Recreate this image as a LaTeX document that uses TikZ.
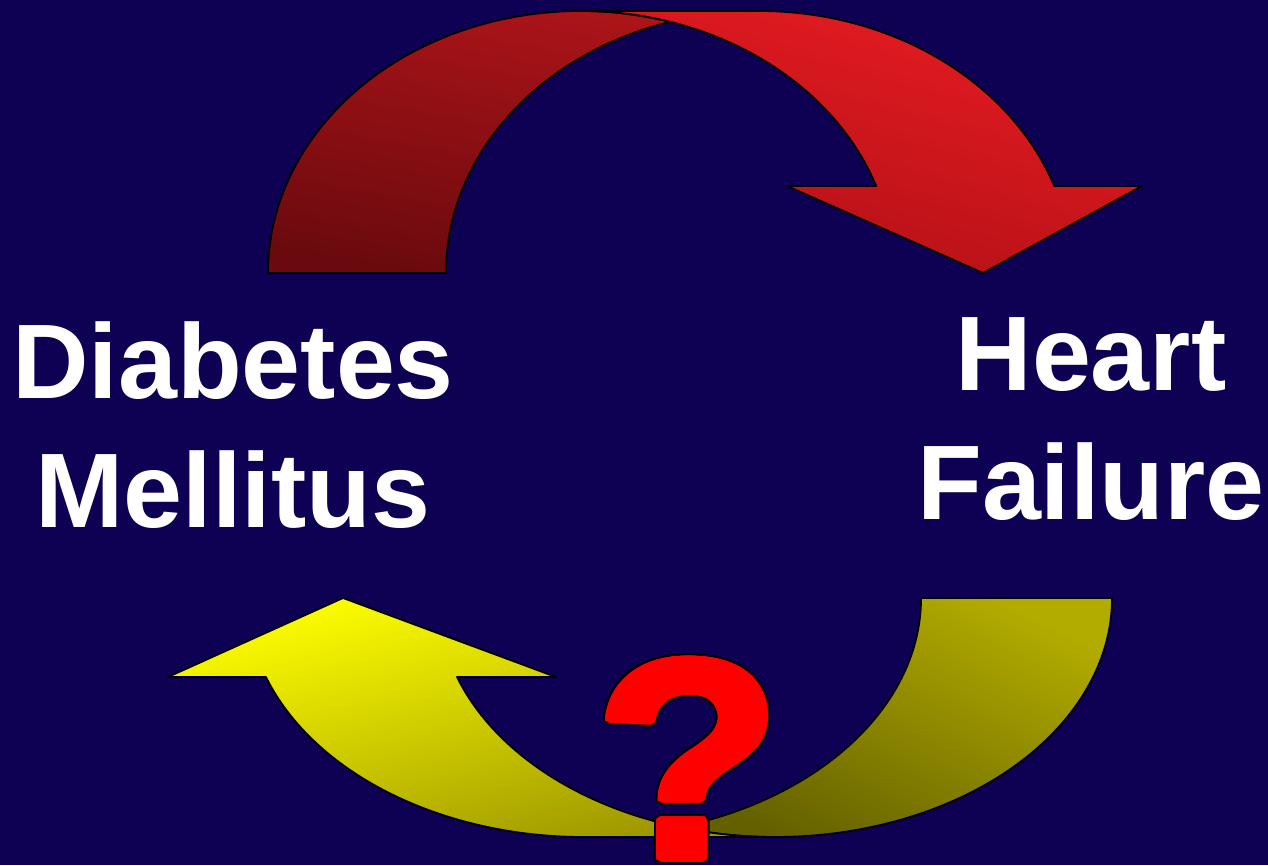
\documentclass[tikz,border=0pt]{standalone}
\usepackage{fontspec}
\setmainfont{Liberation Sans}
\definecolor{bg}{RGB}{14,0,82}
\definecolor{rtailtop}{RGB}{172,20,24}
\definecolor{rtailbot}{RGB}{106,10,14}
\definecolor{rheadtop}{RGB}{230,28,34}
\definecolor{rheadbot}{RGB}{176,16,22}
\definecolor{yheadtop}{RGB}{255,255,0}
\definecolor{yheadbot}{RGB}{158,152,0}
\definecolor{ytailtop}{RGB}{178,172,0}
\definecolor{ytailbot}{RGB}{100,96,0}
\tikzset{
  shapeedge/.style={draw=black, line width=1.8pt, line join=round},
  lbl/.style={text=white, font=\bfseries\fontsize{106}{129}\selectfont, align=center, inner sep=0pt},
  qm/.style={font=\bfseries\fontsize{300}{300}\selectfont, inner sep=0pt, anchor=base,
             xscale=1.02, yscale=0.947, transform shape}
}
\begin{document}
\begin{tikzpicture}[x=1pt,y=1pt]
\useasboundingbox (0,0) rectangle (1268,865);
\fill[bg] (0,0) rectangle (1268,865);
% red curved arrow: tail
\path[shapeedge, top color=rtailtop, bottom color=rtailbot, shading angle=-10]
  (268,592) arc[start angle=180, end angle=73.48, x radius=313, y radius=262]
  arc[start angle=106.52, end angle=180, x radius=313, y radius=262] -- cycle;
% red curved arrow: head
\path[shapeedge, top color=rheadtop, bottom color=rheadbot, shading angle=-15]
  (581,854) -- (759,854)
  arc[start angle=90, end angle=19.39, x radius=313, y radius=262]
  -- (1142,679) -- (983,592) -- (787,679) -- (876.2,679)
  arc[start angle=19.39, end angle=90, x radius=313, y radius=262] -- cycle;
% yellow curved arrow: tail
\path[shapeedge, top color=ytailtop, bottom color=ytailbot, shading angle=-25]
  (1112,267) arc[start angle=0, end angle=-106.46, x radius=337, y radius=239]
  arc[start angle=-73.54, end angle=0, x radius=337, y radius=239] -- cycle;
% yellow curved arrow: head
\path[shapeedge, top color=yheadtop, bottom color=yheadbot, shading angle=15]
  (775,28) -- (584,28)
  arc[start angle=270, end angle=199.3, x radius=337, y radius=239]
  -- (168,188) -- (343,267) -- (556,188) -- (457,188)
  arc[start angle=199.3, end angle=270, x radius=337, y radius=239] -- cycle;
% labels
\node[lbl] (dm) at (233,440) {Diabetes\\Mellitus};
\node[lbl] (hf) at (1091,446) {Heart\\Failure};
% question mark: black outline, red body
\foreach \a in {0,15,...,345}
  \node[qm, text=black] (qo\a) at ({688.5+6*cos(\a)},{7+6*sin(\a)}) {?};
\foreach \a in {0,15,...,345}
  \node[qm, text=red] (qf\a) at ({688.5+4*cos(\a)},{7+4*sin(\a)}) {?};
\node[qm, text=red] (q) at (688.5,7) {?};
\end{tikzpicture}
\end{document}
